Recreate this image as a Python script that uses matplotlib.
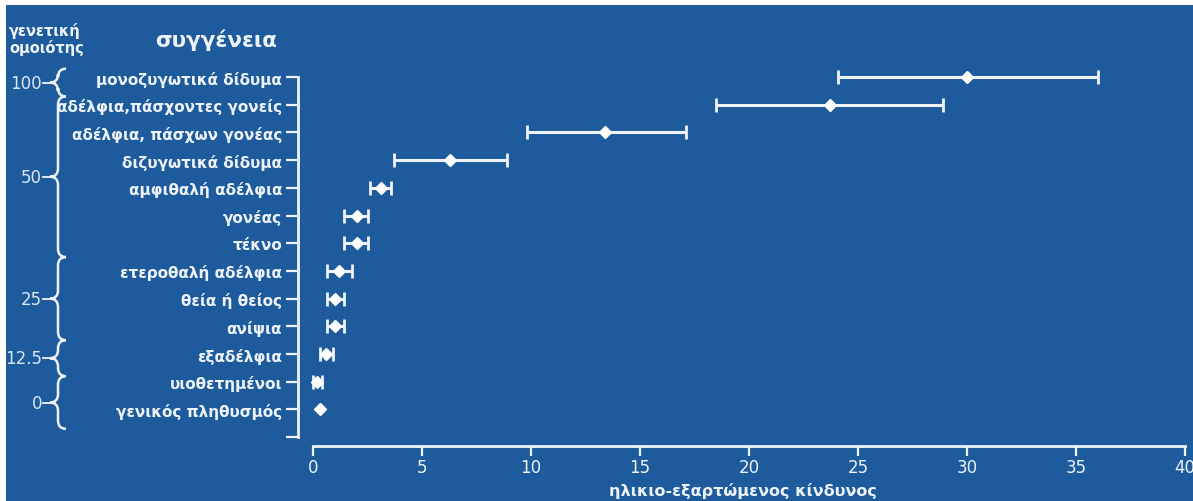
import numpy as np
import matplotlib
matplotlib.use("Agg")
import matplotlib.pyplot as plt
from matplotlib.path import Path
from matplotlib.patches import PathPatch, Rectangle
from matplotlib.transforms import blended_transform_factory

# ==================================================
# Data
# ==================================================
relations = ['μονοζυγωτικά δίδυμα', 'αδέλφια,πάσχοντες γονείς', 'αδέλφια, πάσχων γονέας',
             'διζυγωτικά δίδυμα', 'αμφιθαλή αδέλφια', 'γονέας', 'τέκνο',
             'ετεροθαλή αδέλφια', 'θεία ή θείος', 'ανίψια', 'εξαδέλφια',
             'υιοθετημένοι', 'γενικός πληθυσμός']
risk = [30.0, 23.7, 13.4, 6.3, 3.1, 2.0, 2.0, 1.2, 1.0, 1.0, 0.6, 0.2, 0.3]
risk_low = [24.1, 18.5, 9.8, 3.7, 2.6, 1.4, 1.4, 0.65, 0.65, 0.65, 0.3, 0.0, np.nan]
risk_high = [36.0, 28.9, 17.1, 8.9, 3.6, 2.5, 2.5, 1.8, 1.4, 1.4, 0.9, 0.4, np.nan]

similarity = ['100', '50', '25', '12.5', '0']
# row boundaries of each similarity group (brace ends)
group_edges = [-0.3, 0.7, 6.5, 9.5, 10.8, 12.7]

x_ticks = [0, 5, 10, 15, 20, 25, 30, 35, 40]

# ==================================================
# Style
# ==================================================
BG = '#1d5b9d'
FG = '#eef3fa'
W, H = 1193, 502

fig = plt.figure(figsize=(W / 100, H / 100), dpi=100)
fig.patch.set_facecolor('white')
fig.patches.append(Rectangle((6 / W, 0), 1, 1 - 6 / H, transform=fig.transFigure,
                             facecolor=BG, edgecolor='none', zorder=-10))

ax = fig.add_axes([298 / W, 1 - 447 / H, (1187 - 298) / W, (447 - 70) / H])
ax.set_facecolor('none')
ax.set_xlim(-0.69, 40.1)
ax.set_ylim(13.32, -0.29)

rows = np.arange(len(relations))
risk = np.array(risk)
lo = np.array(risk_low)
hi = np.array(risk_high)
has_err = ~np.isnan(lo)

ax.errorbar(risk[has_err], rows[has_err],
            xerr=[risk[has_err] - lo[has_err], hi[has_err] - risk[has_err]],
            fmt='none', ecolor=FG, elinewidth=2.2, capsize=5, capthick=2)
ax.plot(risk, rows, 'D', color='white', ms=6.5, mec='white', ls='none', zorder=3)

# axes: spines, ticks
for s in ['top', 'right']:
    ax.spines[s].set_visible(False)
ax.spines['left'].set_bounds(0, 13)
ax.spines['bottom'].set_bounds(0, 40)
for s in ['left', 'bottom']:
    ax.spines[s].set_color(FG)
    ax.spines[s].set_linewidth(2)

ax.set_yticks(np.arange(len(relations) + 1))
ax.set_yticklabels(relations + [''], fontsize=11, fontweight='bold', color=FG)
ax.tick_params(axis='y', colors=FG, length=9, width=1.6, pad=2.5)

ax.set_xticks(x_ticks)
ax.set_xticklabels([str(t) for t in x_ticks], fontsize=12, color='#dce6f3')
ax.tick_params(axis='x', colors=FG, length=7, width=1.6, pad=2)
ax.set_xlabel('ηλικιο-εξαρτώμενος κίνδυνος', fontsize=11.5, fontweight='bold',
              color=FG, va='center')
ax.xaxis.set_label_coords(0.5, -(491 - 447) / 377)

# headers
fig.text(9 / W, 1 - 31 / H, 'γενετική', fontsize=10.5, fontweight='bold', color=FG,
         ha='left', va='center')
fig.text(9 / W, 1 - 48 / H, 'ομοιότης', fontsize=10.5, fontweight='bold', color=FG,
         ha='left', va='center')
fig.text(216 / W, 1 - 40 / H, 'συγγένεια', fontsize=15.5, fontweight='bold', color=FG,
         ha='center', va='center')

# braces for genetic similarity groups
tr = blended_transform_factory(fig.transFigure, ax.transData)
xm = 58 / W      # vertical stroke
xw = 8 / W       # curl width
r = 0.3          # curl height in rows
for k, lab in enumerate(similarity):
    y0, y1 = group_edges[k], group_edges[k + 1]
    ym = (y0 + y1) / 2
    verts = [(xm + xw, y0), (xm, y0), (xm, y0 + r),
             (xm, ym - r),
             (xm, ym), (xm - xw, ym), (xm - xw, ym),
             (xm, ym), (xm, ym + r),
             (xm, y1 - r),
             (xm, y1), (xm + xw, y1)]
    codes = [Path.MOVETO, Path.CURVE3, Path.CURVE3,
             Path.LINETO,
             Path.CURVE3, Path.CURVE3, Path.MOVETO,
             Path.CURVE3, Path.CURVE3,
             Path.LINETO,
             Path.CURVE3, Path.CURVE3]
    fig.patches.append(PathPatch(Path(verts, codes), transform=tr, facecolor='none',
                                 edgecolor=FG, lw=1.8))
    fig.add_artist(plt.Line2D([xm - xw - 7 / W, xm - xw], [ym, ym], transform=tr,
                              color=FG, lw=1.3))
    fig.text(xm - xw - 8 / W, ym, lab, transform=tr, fontsize=12, color='#dce6f3',
             ha='right', va='center')

fig.savefig('out.png', dpi=100, facecolor=fig.get_facecolor())
